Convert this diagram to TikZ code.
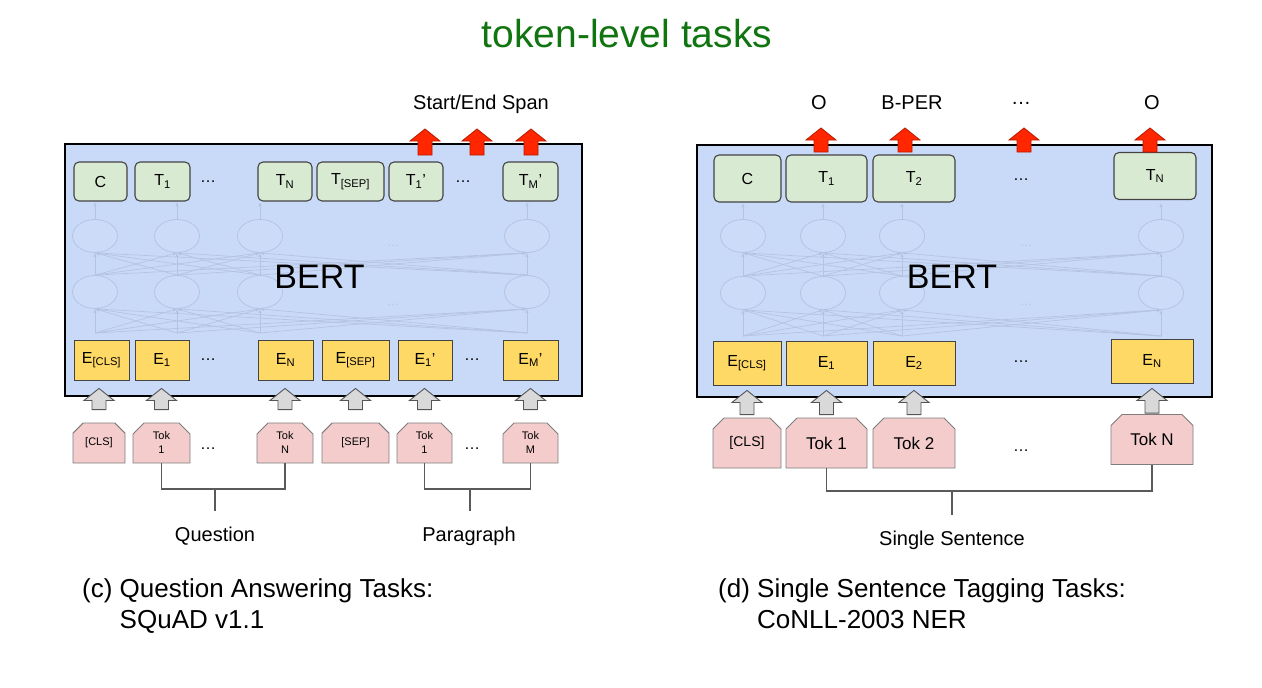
\documentclass[tikz,border=0pt]{standalone}
\usepackage{fontspec}
\setmainfont{Liberation Sans}
\usetikzlibrary{positioning,shapes.misc,shapes.geometric,arrows.meta,calc}
\definecolor{bertbg}{RGB}{201,218,248}
\definecolor{outgreen}{RGB}{217,234,211}
\definecolor{embyellow}{RGB}{255,217,102}
\definecolor{tokpink}{RGB}{244,204,204}
\definecolor{boxedge}{RGB}{67,67,67}
\definecolor{tokedge}{RGB}{125,125,125}
\definecolor{netcol}{RGB}{180,195,224}
\definecolor{arrowgray}{RGB}{217,217,217}
\definecolor{arrowedge}{RGB}{85,85,85}
\definecolor{redfill}{RGB}{255,38,0}
\definecolor{rededge}{RGB}{185,25,0}
\definecolor{titlegreen}{RGB}{16,116,16}
\definecolor{bracketcol}{RGB}{90,90,90}

\begin{document}
\begin{tikzpicture}[x=1pt, y=-1pt,
    % Node styles
    bertbox/.style={rectangle, draw=black, line width=2.6pt, fill=bertbg, inner sep=0pt},
    outbox/.style={rectangle, rounded corners=5pt, draw=boxedge, line width=1.1pt, fill=outgreen,
                   inner sep=0pt, font=\fontsize{16}{19}\selectfont},
    embbox/.style={rectangle, draw=boxedge, line width=0.9pt, fill=embyellow,
                   inner sep=0pt, font=\fontsize{16}{19}\selectfont},
    tokbox/.style={chamfered rectangle, chamfered rectangle corners={north west,north east},
                   chamfered rectangle xsep=6pt, chamfered rectangle ysep=5pt,
                   draw=tokedge, line width=0.9pt, fill=tokpink, inner sep=0pt, align=center},
    neuron/.style={ellipse, draw=netcol, line width=0.8pt, fill=white, fill opacity=0.07,
                   minimum width=45, minimum height=33, inner sep=0pt},
    dotsnode/.style={font=\fontsize{16}{19}\selectfont},
    faintdots/.style={font=\fontsize{12}{14}\selectfont, text=netcol},
    bertname/.style={font=\fontsize{34}{40}\selectfont, anchor=base},
    lbl/.style={font=\fontsize{20}{24}\selectfont, anchor=base, inner sep=0pt},
    caption/.style={font=\fontsize{26}{31}\selectfont, anchor=base west, inner sep=0pt},
    % Arrow styles
    netline/.style={draw=netcol, line width=0.7pt, -{Latex[length=4pt,width=3.5pt]}},
    blockarrow/.style={to path={let \p1=(\tikztostart), \p2=(\tikztotarget) in
        (\x1-7pt,\y1) -- (\x1-7pt,\y2-12pt) -- (\x1-15pt,\y2-12pt) -- (\x1,\y2)
        -- (\x1+15pt,\y2-12pt) -- (\x1+7pt,\y2-12pt) -- (\x1+7pt,\y1) -- cycle}},
    grayarrow/.style={blockarrow, draw=arrowedge, line width=0.9pt, fill=arrowgray},
    redarrow/.style={blockarrow, draw=rededge, line width=0.8pt, fill=redfill},
    bracket/.style={draw=bracketcol, line width=1.2pt}
]
\useasboundingbox (0,0) rectangle (1262,688);

% Title
\node[font=\fontsize{39}{46}\selectfont, text=titlegreen, anchor=base] (title) at (627,47) {token-level tasks};

% BERT blocks
\node[bertbox, minimum width=517, minimum height=252] (bertL) at (323.5,270) {};
\node[bertbox, minimum width=515, minimum height=252] (bertR) at (954.5,271) {};

% Transformer network (faint), left
\foreach \x [count=\i] in {95,177,260,527} {
    \node[neuron] (nL1-\i) at (\x,236) {};
    \node[neuron] (nL2-\i) at (\x,292) {};
    \coordinate (srcL-\i) at (\x,333);
}
\foreach \i in {1,...,4} {
    \foreach \j in {1,...,4} {
        \draw[netline] (srcL-\i) -- (nL2-\j.south);
        \draw[netline] (nL2-\i.north) -- (nL1-\j.south);
    }
    \draw[netline] (nL1-\i.north) -- ++(0,-17);
}
\node[faintdots] (fdL1) at (393,246) {\ldots};
\node[faintdots] (fdL2) at (393,305) {\ldots};

% Transformer network (faint), right
\foreach \x [count=\i] in {743,823,902,1161} {
    \node[neuron] (nR1-\i) at (\x,236) {};
    \node[neuron] (nR2-\i) at (\x,293) {};
    \coordinate (srcR-\i) at (\x,336);
}
\foreach \i in {1,...,4} {
    \foreach \j in {1,...,4} {
        \draw[netline] (srcR-\i) -- (nR2-\j.south);
        \draw[netline] (nR2-\i.north) -- (nR1-\j.south);
    }
    \draw[netline] (nR1-\i.north) -- ++(0,-16);
}
\node[faintdots] (fdR1) at (1026,246) {\ldots};
\node[faintdots] (fdR2) at (1026,305) {\ldots};

\node[bertname] (bertnameL) at (319.5,288) {BERT};
\node[bertname] (bertnameR) at (952,288) {BERT};

% Output tokens, left
\node[outbox, minimum width=53, minimum height=39] (outL-1) at (100.5,181.5) {C};
\node[outbox, minimum width=55, minimum height=39] (outL-2) at (162.5,181.5) {T\textsubscript{1}};
\node[dotsnode] (dotL1) at (208,182) {\ldots};
\node[outbox, minimum width=54, minimum height=39] (outL-3) at (285,181.5) {T\textsubscript{N}};
\node[outbox, minimum width=67, minimum height=39] (outL-4) at (350.5,181.5) {T\textsubscript{[SEP]}};
\node[outbox, minimum width=54, minimum height=39] (outL-5) at (416,181.5) {T\textsubscript{1}'};
\node[dotsnode] (dotL2) at (463,182) {\ldots};
\node[outbox, minimum width=55, minimum height=39] (outL-6) at (530.5,181.5) {T\textsubscript{M}'};

% Embeddings, left
\node[embbox, minimum width=55, minimum height=40] (embL-1) at (101.5,360) {E\textsubscript{[CLS]}};
\node[embbox, minimum width=54, minimum height=40] (embL-2) at (162,360) {E\textsubscript{1}};
\node[dotsnode] (dotL3) at (208,360) {\ldots};
\node[embbox, minimum width=55, minimum height=40] (embL-3) at (285.5,360) {E\textsubscript{N}};
\node[embbox, minimum width=67, minimum height=40] (embL-4) at (355.5,360) {E\textsubscript{[SEP]}};
\node[embbox, minimum width=54, minimum height=40] (embL-5) at (425,360) {E\textsubscript{1}'};
\node[dotsnode] (dotL4) at (472,360) {\ldots};
\node[embbox, minimum width=55, minimum height=40] (embL-6) at (530.5,360) {E\textsubscript{M}'};

% Input tokens, left
\node[tokbox, minimum width=52, minimum height=40, font=\fontsize{11}{14}\selectfont] (tokL-1) at (99,443) {[CLS]};
\node[tokbox, minimum width=57, minimum height=40, font=\fontsize{11}{14}\selectfont] (tokL-2) at (161.5,443) {Tok\\1};
\node[dotsnode] (dotL5) at (208,449) {\ldots};
\node[tokbox, minimum width=56, minimum height=40, font=\fontsize{11}{14}\selectfont] (tokL-3) at (285,443) {Tok\\N};
\node[tokbox, minimum width=67, minimum height=40, font=\fontsize{11}{14}\selectfont] (tokL-4) at (355.5,443) {[SEP]};
\node[tokbox, minimum width=55, minimum height=40, font=\fontsize{11}{14}\selectfont] (tokL-5) at (424.5,443) {Tok\\1};
\node[dotsnode] (dotL6) at (472,449) {\ldots};
\node[tokbox, minimum width=55, minimum height=40, font=\fontsize{11}{14}\selectfont] (tokL-6) at (530.5,443) {Tok\\M};

% Output tokens, right
\node[outbox, minimum width=67, minimum height=47] (outR-1) at (747.5,178.5) {C};
\node[outbox, minimum width=81, minimum height=47] (outR-2) at (826.5,178.5) {T\textsubscript{1}};
\node[outbox, minimum width=82, minimum height=47] (outR-3) at (914,178.5) {T\textsubscript{2}};
\node[dotsnode] (dotR1) at (1021,180) {\ldots};
\node[outbox, minimum width=82, minimum height=47] (outR-4) at (1155,176) {T\textsubscript{N}};

% Embeddings, right
\node[embbox, minimum width=68, minimum height=44] (embR-1) at (747,363) {E\textsubscript{[CLS]}};
\node[embbox, minimum width=81, minimum height=44] (embR-2) at (826.5,363) {E\textsubscript{1}};
\node[embbox, minimum width=82, minimum height=44] (embR-3) at (914,363) {E\textsubscript{2}};
\node[dotsnode] (dotR2) at (1021,362) {\ldots};
\node[embbox, minimum width=82, minimum height=44] (embR-4) at (1152,361) {E\textsubscript{N}};

% Input tokens, right
\node[tokbox, minimum width=68, minimum height=50, font=\fontsize{14}{17}\selectfont] (tokR-1) at (747,443) {[CLS]};
\node[tokbox, minimum width=81, minimum height=50, font=\fontsize{17}{20}\selectfont] (tokR-2) at (826.5,443) {Tok 1};
\node[tokbox, minimum width=82, minimum height=50, font=\fontsize{17}{20}\selectfont] (tokR-3) at (914,443) {Tok 2};
\node[dotsnode] (dotR3) at (1021,451) {\ldots};
\node[tokbox, minimum width=82, minimum height=50, font=\fontsize{17}{20}\selectfont] (tokR-4) at (1152,439.5) {Tok N};

% Input arrows
\draw[grayarrow] ([yshift=13pt]tokL-1.north) to ([yshift=-8pt]embL-1.south);
\draw[grayarrow] ([yshift=13pt]tokL-2.north) to ([yshift=-8pt]embL-2.south);
\draw[grayarrow] ([yshift=13pt]tokL-3.north) to ([yshift=-8pt]embL-3.south);
\draw[grayarrow] ([yshift=13pt]tokL-4.north) to ([yshift=-8pt]embL-4.south);
\draw[grayarrow] ([yshift=13pt]tokL-5.north) to ([yshift=-8pt]embL-5.south);
\draw[grayarrow] ([yshift=13pt]tokL-6.north) to ([yshift=-8pt]embL-6.south);
\draw[grayarrow] ([yshift=3pt]tokR-1.north) to ([yshift=-5pt]embR-1.south);
\draw[grayarrow] ([yshift=3pt]tokR-2.north) to ([yshift=-5pt]embR-2.south);
\draw[grayarrow] ([yshift=3pt]tokR-3.north) to ([yshift=-5pt]embR-3.south);
\draw[grayarrow] ([yshift=1pt]tokR-4.north) to ([yshift=-5pt]embR-4.south);

% Output arrows
\coordinate (spanL-1) at (425,155);
\coordinate (spanL-2) at (477,155);
\coordinate (spanL-3) at (531,155);
\draw[redarrow] (spanL-1) to ([yshift=26pt]spanL-1);
\draw[redarrow] (spanL-2) to ([yshift=26pt]spanL-2);
\draw[redarrow] (spanL-3) to ([yshift=26pt]spanL-3);
\coordinate (tagR-1) at (821,152);
\coordinate (tagR-2) at (905,152);
\coordinate (tagR-3) at (1024,152);
\coordinate (tagR-4) at (1150,152);
\draw[redarrow] (tagR-1) to ([yshift=24pt]tagR-1);
\draw[redarrow] (tagR-2) to ([yshift=24pt]tagR-2);
\draw[redarrow] (tagR-3) to ([yshift=24pt]tagR-3);
\draw[redarrow] (tagR-4) to ([yshift=24pt]tagR-4);

% Output labels
\node[lbl] (spanlbl) at (481,109) {Start/End Span};
\node[lbl] (taglbl-1) at (819,109) {O};
\node[lbl] (taglbl-2) at (912,109) {B-PER};
\node[lbl] (taglbl-3) at (1021,104) {\ldots};
\node[lbl] (taglbl-4) at (1152,109) {O};

% Segment brackets
\coordinate (qJoin) at (215,489);
\coordinate (pJoin) at (470,489);
\coordinate (sJoin) at (952,491);
\draw[bracket] (tokL-2.south) |- (qJoin) -| (tokL-3.south);
\draw[bracket] (qJoin) -- ++(0,22);
\draw[bracket] (tokL-5.south) |- (pJoin) -| (tokL-6.south);
\draw[bracket] (pJoin) -- ++(0,22);
\draw[bracket] (tokR-2.south) |- (sJoin) -| (tokR-4.south);
\draw[bracket] (sJoin) -- ++(0,24);
\node[lbl] (qlbl) at (215,541) {Question};
\node[lbl] (plbl) at (469,541) {Paragraph};
\node[lbl] (slbl) at (952,545) {Single Sentence};

% Captions
\node[caption] (capL) at (82,597) {(c) \begin{tabular}[t]{@{}l@{}}Question Answering Tasks:\\SQuAD v1.1\end{tabular}};
\node[caption] (capR) at (718,597) {(d) \begin{tabular}[t]{@{}l@{}}Single Sentence Tagging Tasks:\\CoNLL-2003 NER\end{tabular}};

\end{tikzpicture}
\end{document}
